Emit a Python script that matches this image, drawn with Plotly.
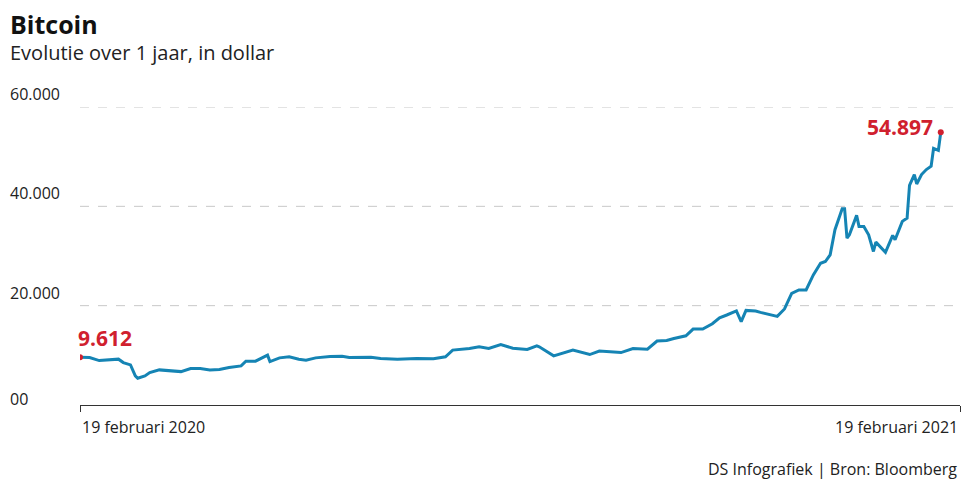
import pandas as pd
import plotly.graph_objects as go

days = [0, 4, 8, 12, 16, 18, 21, 23, 24, 27, 29, 33, 37, 42, 46, 50, 54, 58, 62, 67, 69, 73, 78, 79,
        83, 87, 91, 94, 98, 104, 109, 112, 121, 125, 132, 140, 147, 152, 155, 162, 166, 170, 175, 180,
        186, 190,
        191, 197, 205, 212, 216, 225, 230, 236, 240, 244, 247, 252, 255, 259, 263, 266, 269, 273, 275,
        277, 281, 283, 290, 293, 296, 299, 302, 305, 308, 310, 312, 314, 317, 318, 319, 320, 323, 324,
        326, 328, 330, 331, 335, 338, 339, 342, 344, 345, 347, 348, 350, 352, 354, 355, 357, 358]
prices = [9612, 9550, 8940, 9130, 9230, 8540, 8080, 5850, 5390, 5850, 6520, 7070, 6920, 6720, 7330,
          7330, 7070, 7130, 7530, 7880, 8830, 8830, 10040, 8740, 9490, 9700, 9230, 9030, 9490, 9760,
          9830, 9550, 9630, 9360, 9230, 9350, 9300, 9700, 11050, 11370, 11720, 11370, 12180, 11440,
          11170, 11920,
          11720, 9900, 11050, 10160, 10850, 10560, 11370, 11250, 12870, 12990, 13390, 13940, 15290,
          15290, 16360, 17570, 18120, 18930, 16770, 19050, 18930, 18640, 17840, 19330, 22480, 23170,
          23170, 26200, 28540, 28890, 30240, 35290, 39530, 39530, 33590, 34280, 38180, 35960, 35960,
          34280, 30910, 32790, 30760, 34140, 33270, 36970, 37630, 44240, 46400, 44500, 46400, 47410,
          48080, 51650, 51250, 54897]
ytick_vals = [0, 20000, 40000, 60000]
ytick_text = ["00", "20.000", "40.000", "60.000"]
start = pd.Timestamp("2020-02-19")
end = pd.Timestamp("2021-02-19")
dates = [start + pd.Timedelta(days=d) for d in days]

RED = "#d0202e"
BLUE = "#1584b4"
FONT = "Open Sans"
PW, PH = 880, 298  # plot area size in px


def px(sx):
    return (sx - 80) / PW


def py(sy):
    return (405 - sy) / PH


fig = go.Figure()
fig.add_trace(go.Scatter(x=dates, y=prices, mode="lines",
                         line=dict(color=BLUE, width=3), hoverinfo="skip"))
fig.add_trace(go.Scatter(x=[dates[0], dates[-1]], y=[prices[0], prices[-1]], mode="markers",
                         marker=dict(color=RED, size=6), hoverinfo="skip"))

fig.update_layout(
    width=961, height=475, showlegend=False,
    margin=dict(l=72, r=9, t=99, b=78),
    plot_bgcolor="white", paper_bgcolor="white",
    font=dict(family=FONT, color="#222"),
    xaxis=dict(range=[start, end], showgrid=False, zeroline=False,
               tickvals=[start, end], ticktext=["", ""], ticks="outside",
               ticklen=6, tickcolor="#333", showline=True, linecolor="#333", linewidth=1),
    yaxis=dict(range=[0, 60000], tickvals=ytick_vals, showticklabels=False,
               showgrid=False, zeroline=False, showline=False),
)

shapes = []
for v in ytick_vals[1:]:
    shapes.append(dict(type="line", xref="paper", yref="y", x0=0, x1=1, y0=v, y1=v,
                       line=dict(color="#c8c8c8", width=1, dash="dash"), layer="below"))
fig.update_layout(shapes=shapes)

ann = []
for v, t in zip(ytick_vals, ytick_text):
    ann.append(dict(x=px(8), y=v, xref="paper", yref="y", text=t, showarrow=False,
                    xanchor="left", yanchor="bottom", yshift=-7 if v == 0 else 0,
                    font=dict(size=16, color="#222", family=FONT)))
ann += [
    dict(x=0, y=py(414), xref="paper", yref="paper", text="19 februari 2020", showarrow=False,
         xanchor="left", yanchor="top", font=dict(size=16, color="#222")),
    dict(x=1, y=py(414), xref="paper", yref="paper", text="19 februari 2021", showarrow=False,
         xanchor="right", yanchor="top", font=dict(size=16, color="#222")),
    dict(x=dates[0], y=prices[0], text="<b>9.612</b>", showarrow=False, xanchor="left",
         yanchor="bottom", xshift=-4, yshift=3, font=dict(size=21, color=RED)),
    dict(x=dates[-1], y=prices[-1], text="<b>54.897</b>", showarrow=False, xanchor="right",
         yanchor="middle", xshift=-6, yshift=5, font=dict(size=21, color=RED)),
    dict(x=px(8), y=py(24), xref="paper", yref="paper", text="<b>Bitcoin</b>", showarrow=False,
         xanchor="left", yanchor="middle", font=dict(size=25, color="#111")),
    dict(x=px(8), y=py(53), xref="paper", yref="paper", text="Evolutie over 1 jaar, in dollar",
         showarrow=False, xanchor="left", yanchor="middle", font=dict(size=20, color="#222")),
    dict(x=px(959), y=py(469), xref="paper", yref="paper", text="DS Infografiek | Bron: Bloomberg",
         showarrow=False, xanchor="right", yanchor="middle", font=dict(size=16, color="#222")),
]
fig.update_layout(annotations=ann)
fig.write_html("out.html")
